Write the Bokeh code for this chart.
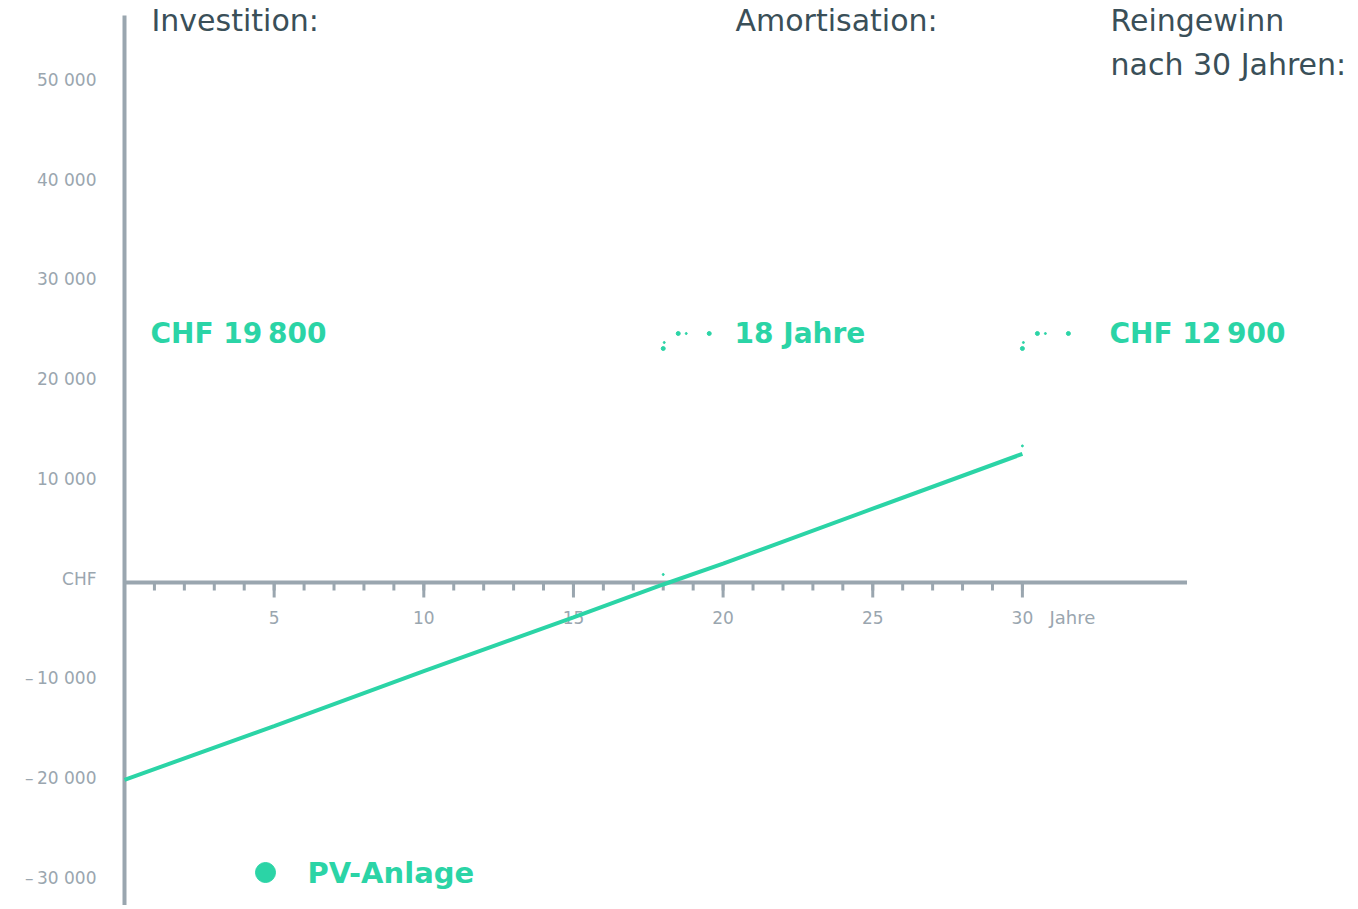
from bokeh.plotting import figure
from bokeh.models import Label
from bokeh.core.properties import value
from bokeh.embed import file_html
from bokeh.resources import INLINE

# ---- data ----
years = [0, 5, 10, 15, 18, 20, 25, 30]
pv_values = [-19800, -14400, -8900, -3500, -200, 1900, 7400, 12900]
x_major = [5, 10, 15, 20, 25, 30]
x_major_labels = ["5", "10", "15", "20", "25", "30"]
x_minor = list(range(1, 31))
y_ticks = [50000, 40000, 30000, 20000, 10000, 0, -10000, -20000, -30000]
y_tick_labels = ["50\u00a0000", "40\u00a0000", "30\u00a0000", "20\u00a0000", "10\u00a0000",
                 "CHF", "\u2013\u200910\u00a0000", "\u2013\u200920\u00a0000", "\u2013\u200930\u00a0000"]
series_name = "PV-Anlage"
header_titles = ["Investition:", "Amortisation:", "Reingewinn", "nach 30 Jahren:"]
header_values = ["CHF 19\u2009800", "18 Jahre", "CHF 12\u2009900"]
payback_year = 18
final_year = 30
final_value = 12900

# ---- layout / style ----
W, H = 1350, 905
PX_X = 29.93          # px per year
PX_Y = 99.7 / 10000   # px per CHF
X0, Y0 = 124, 582     # pixel position of the origin
GREEN = "#2BD4A6"
GRAY = "#9AA6AF"
DARK = "#3A4F58"
FONT = "DejaVu Sans"

x_start = -X0 / PX_X
x_end = x_start + W / PX_X
y_end = Y0 / PX_Y
y_start = y_end - H / PX_Y

p = figure(width=W, height=H, x_range=(x_start, x_end), y_range=(y_start, y_end),
           output_backend="svg", toolbar_location=None, min_border=0,
           min_border_left=0, min_border_right=0, min_border_top=0, min_border_bottom=0)
p.axis.visible = False
p.grid.visible = False
p.outline_line_color = None
p.background_fill_color = "white"

# axes
y_axis_top = (Y0 - 15) / PX_Y
p.segment(x0=[0], y0=[y_start], x1=[0], y1=[y_axis_top], line_color=GRAY, line_width=4)
p.segment(x0=[0], y0=[0], x1=[35.5], y1=[0], line_color=GRAY, line_width=4)
minor_len = 8 / PX_Y
major_len = 15 / PX_Y
p.segment(x0=x_minor, y0=[0] * len(x_minor), x1=x_minor, y1=[-minor_len] * len(x_minor),
          line_color=GRAY, line_width=3)
p.segment(x0=x_major, y0=[0] * len(x_major), x1=x_major, y1=[-major_len] * len(x_major),
          line_color=GRAY, line_width=3)

# tick labels
p.text(x=x_major, y=[0] * len(x_major), text=x_major_labels, x_offset=0, y_offset=35,
       text_align="center", text_baseline="middle", text_color=GRAY,
       text_font=value(FONT), text_font_size="17px")
p.text(x=[final_year], y=[0], text=["Jahre"], x_offset=27, y_offset=35,
       text_align="left", text_baseline="middle", text_color=GRAY,
       text_font=value(FONT), text_font_size="18px")
p.text(x=[0] * len(y_ticks), y=y_ticks, text=y_tick_labels, x_offset=-28, y_offset=-4,
       text_align="right", text_baseline="middle", text_color=GRAY,
       text_font=value(FONT), text_font_size="17px")

# series
p.line(years, pv_values, line_color=GREEN, line_width=4)

# small marker dots
p.scatter(x=[payback_year, final_year], y=[8 / PX_Y, final_value + 8 / PX_Y],
          size=2, color=GREEN)

# decorative dots near the value labels (anchored at the payback / final years)
label_row = (Y0 - 333) / PX_Y
for yr in (payback_year, final_year):
    p.scatter(x=[yr, yr + 15 / PX_X, yr + 46 / PX_X], y=[label_row - 15 / PX_Y, label_row, label_row],
              size=4, color=GREEN)
    p.scatter(x=[yr + 1 / PX_X, yr + 23 / PX_X], y=[label_row - 9 / PX_Y, label_row],
              size=2, color=GREEN)


def lab(px, py, text, size, color, bold=False, align="left"):
    p.add_layout(Label(x=px, y=H - py, x_units="screen", y_units="screen",
                       text=text, text_font=FONT, text_font_size=size,
                       text_color=color, text_font_style="bold" if bold else "normal",
                       text_align=align, text_baseline="middle"))


# headers
lab(151, 20, header_titles[0], "30px", DARK)
lab(735, 20, header_titles[1], "30px", DARK)
lab(1110, 20, header_titles[2], "30px", DARK)
lab(1110, 64, header_titles[3], "30px", DARK)
lab(150, 333, header_values[0], "28px", GREEN, bold=True)
lab(734, 333, header_values[1], "28px", GREEN, bold=True)
lab(1109, 333, header_values[2], "28px", GREEN, bold=True)

# legend
p.scatter(x=[(265 - X0) / PX_X], y=[(Y0 - 872) / PX_Y], size=20, color=GREEN)
lab(307, 872, series_name, "29px", GREEN, bold=True)

open("out.html", "w").write(file_html(p, INLINE))
